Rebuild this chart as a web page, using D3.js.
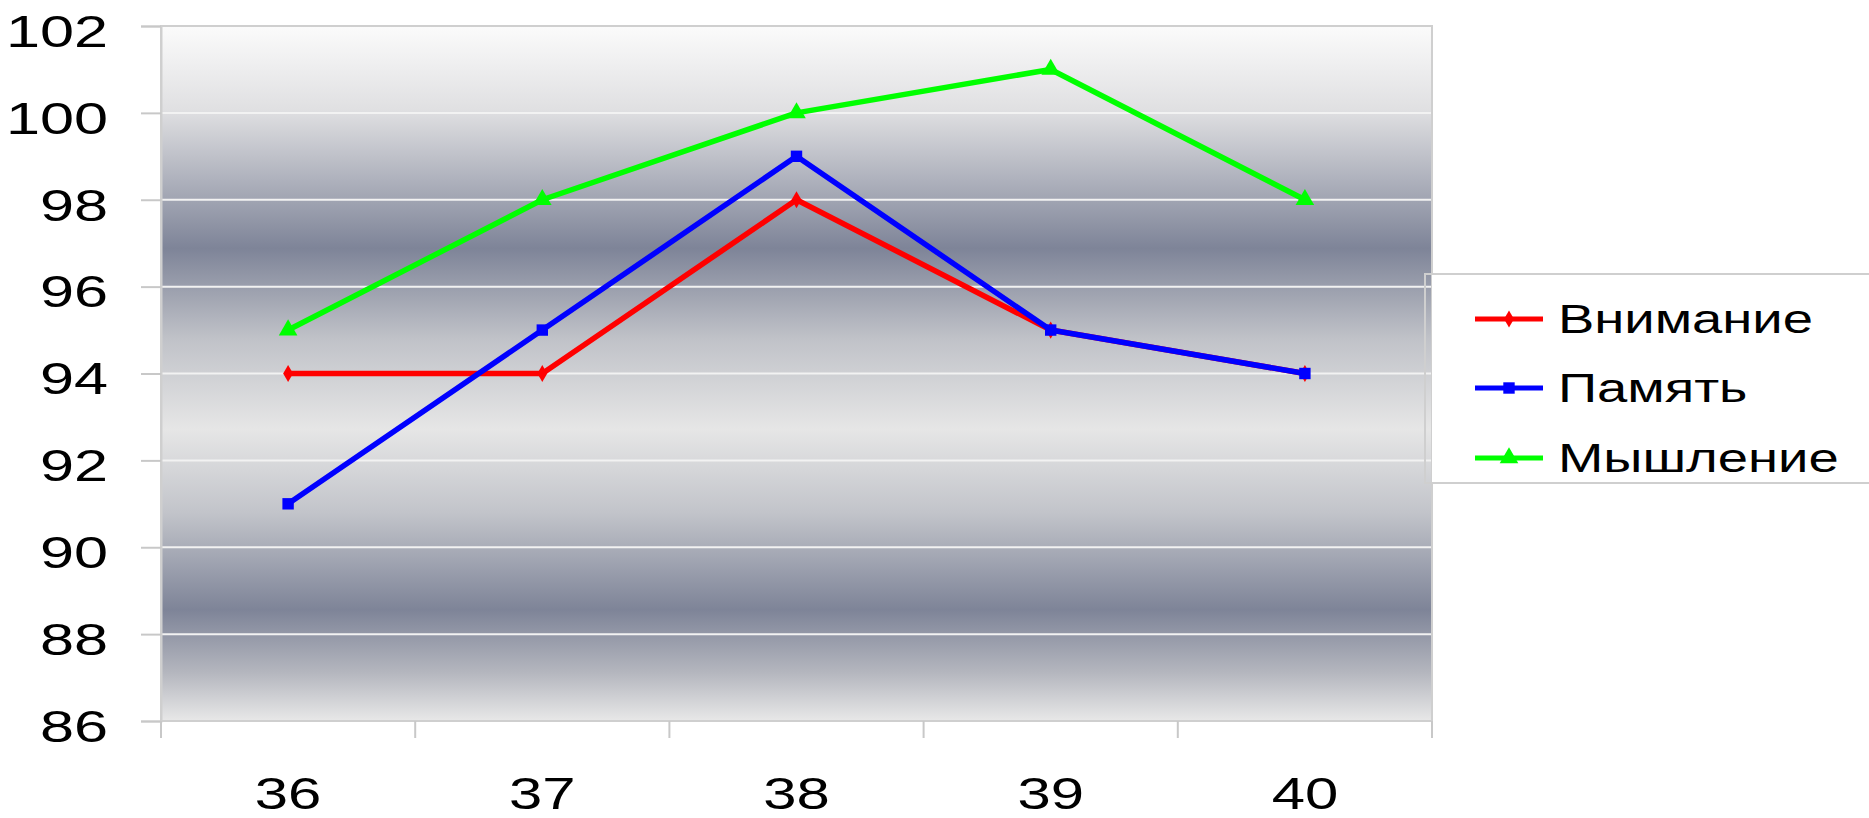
<!DOCTYPE html>
<html><head><meta charset="utf-8">
<script src="https://cdn.jsdelivr.net/npm/d3@7"></script>
<style>html,body{margin:0;padding:0;background:#fff;}svg{display:block;}</style>
</head><body>
<svg id="chart" width="1869" height="818"></svg>
<script>
const categories = ["36", "37", "38", "39", "40"];
const attention = [94, 94, 98, 95, 94];   // Внимание
const memory = [91, 95, 99, 95, 94];      // Память
const thinking = [95, 98, 100, 101, 98];  // Мышление
const seriesNames = ["Внимание", "Память", "Мышление"];
const seriesColors = ["#ff0000", "#0000ff", "#00ff00"];
const yTicks = [86, 88, 90, 92, 94, 96, 98, 100, 102];

const svg = d3.select("#chart");
const L = 161, R = 1432, T = 26, B = 721;
const SX = 1.36;
const FONT = "'Liberation Sans', Arial, sans-serif";

const x = d3.scaleBand().domain(categories).range([L, R]);
const y = d3.scaleLinear().domain([86, 102]).range([B, T]);
const cx = c => x(c) + x.bandwidth() / 2;

// gradient background
const defs = svg.append("defs");
const g = defs.append("linearGradient").attr("id", "bg").attr("x1", 0).attr("y1", 0).attr("x2", 0).attr("y2", 1);
[[0, "#fbfbfb"], [0.12, "#e0e0e2"], [0.32, "#7e8498"], [0.45, "#c0c2c8"], [0.58, "#e6e6e6"], [0.7, "#c2c4ca"], [0.84, "#7e8498"], [0.93, "#b4b6be"], [1, "#e8e8e8"]]
  .forEach(([o, c]) => g.append("stop").attr("offset", o).attr("stop-color", c));

svg.append("rect").attr("x", L).attr("y", T).attr("width", R - L).attr("height", B - T).attr("fill", "url(#bg)");

// gridlines
svg.append("g").selectAll("line").data(yTicks.slice(1, -1)).join("line")
  .attr("x1", L).attr("x2", R).attr("y1", d => y(d)).attr("y2", d => y(d))
  .attr("stroke", "#f2f2f2").attr("stroke-width", 2);

// plot border
svg.append("rect").attr("x", L).attr("y", T).attr("width", R - L).attr("height", B - T)
  .attr("fill", "none").attr("stroke", "#cfcfcf").attr("stroke-width", 2);

// y axis
const ya = svg.append("g").attr("transform", `translate(${L},0)`)
  .call(d3.axisLeft(y).tickValues(yTicks).tickSize(20).tickPadding(0));
ya.select(".domain").attr("stroke", "#cfcfcf").attr("stroke-width", 2);
ya.selectAll(".tick line").attr("stroke", "#c8c8c8").attr("stroke-width", 2);
ya.selectAll(".tick text").attr("font-family", FONT).attr("font-size", 45).attr("fill", "#000")
  .attr("text-anchor", "end").attr("x", -53 / SX).attr("dy", "0.45em").attr("transform", `scale(${SX},1)`);

// x axis (labels at band centres)
const xa = svg.append("g").attr("transform", `translate(0,${B})`)
  .call(d3.axisBottom(x).tickSize(0).tickPadding(0));
xa.select(".domain").remove();
xa.selectAll(".tick").each(function (d) {
  d3.select(this).attr("transform", `translate(${cx(d)},0)`);
});
xa.selectAll(".tick text").attr("font-family", FONT).attr("font-size", 44).attr("fill", "#000")
  .attr("x", 0).attr("y", 88).attr("dy", 0).attr("transform", `scale(${SX},1)`);

// x tick marks at band boundaries
const bounds = categories.map(c => x(c)).concat([x.range()[1]]);
svg.append("g").selectAll("line").data(bounds).join("line")
  .attr("x1", d => d).attr("x2", d => d).attr("y1", B).attr("y2", B + 17)
  .attr("stroke", "#c8c8c8").attr("stroke-width", 2);

// series
const series = [attention, memory, thinking];
const line = d3.line().x((d, i) => cx(categories[i])).y(d => y(d));
const symbols = [d3.symbolDiamond, d3.symbolSquare, d3.symbolTriangle];
const symSizes = [85, 130, 150];
series.forEach((vals, si) => {
  const gg = svg.append("g");
  gg.append("path").datum(vals).attr("d", line).attr("fill", "none")
    .attr("stroke", seriesColors[si]).attr("stroke-width", 5.5).attr("stroke-linejoin", "round");
  gg.selectAll("path.m").data(vals).join("path").attr("class", "m")
    .attr("transform", (d, i) => `translate(${cx(categories[i])},${y(d)})`)
    .attr("d", d3.symbol().type(symbols[si]).size(symSizes[si]))
    .attr("fill", seriesColors[si]);
});

// legend
const LX = 1425, LT = 274, LB = 483;
svg.append("rect").attr("x", 1432).attr("y", LT).attr("width", 1869 - 1432).attr("height", LB - LT).attr("fill", "#fff");
svg.append("rect").attr("x", LX).attr("y", LT).attr("width", 1869 - LX + 5).attr("height", LB - LT)
  .attr("fill", "none").attr("stroke", "#cfcfcf").attr("stroke-width", 2);
const rowsY = [319, 388, 458];
seriesNames.forEach((name, i) => {
  const gy = rowsY[i];
  svg.append("line").attr("x1", 1475).attr("x2", 1543).attr("y1", gy).attr("y2", gy)
    .attr("stroke", seriesColors[i]).attr("stroke-width", 5);
  svg.append("path").attr("transform", `translate(1509,${gy})`)
    .attr("d", d3.symbol().type(symbols[i]).size(symSizes[i])).attr("fill", seriesColors[i]);
  svg.append("text").attr("x", 1558 / SX).attr("y", gy).attr("dy", "0.36em")
    .attr("transform", `scale(${SX},1)`)
    .attr("font-family", FONT).attr("font-size", 40).attr("fill", "#000").text(name);
});
</script>
</body></html>
